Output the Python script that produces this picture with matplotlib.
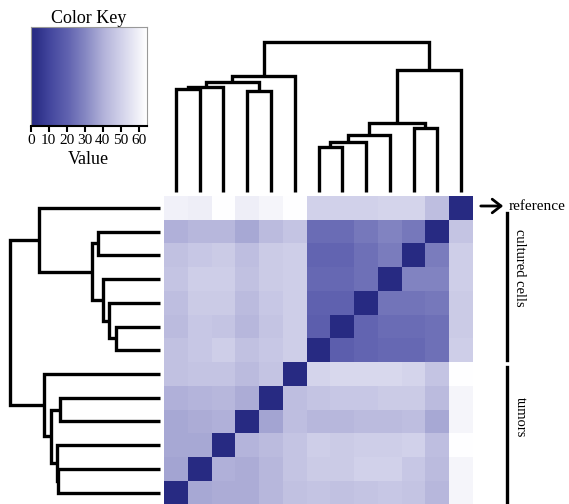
import numpy as np
import matplotlib
matplotlib.use("Agg")
import matplotlib.pyplot as plt
from matplotlib.colors import LinearSegmentedColormap
from matplotlib.patches import FancyArrowPatch
from matplotlib.lines import Line2D

plt.rcParams['font.family'] = ['Liberation Serif', 'DejaVu Serif']

# ---------------- data ----------------
row_labels = ["reference"] + ["cultured"] * 6 + ["tumor"] * 6
col_labels = ["tumor"] * 6 + ["cultured"] * 6 + ["reference"]

values = np.array([
    [60, 59, 64, 59, 61, 64, 50, 50, 50, 51, 51, 44, 0],
    [40, 42, 42, 38, 43, 46, 23, 23, 26, 29, 26, 0, 46],
    [45, 47, 48, 44, 48, 49, 21, 21, 24, 27, 0, 27, 49],
    [46, 49, 49, 45, 48, 49, 22, 22, 24, 0, 29, 29, 49],
    [44, 48, 48, 43, 47, 49, 20, 20, 0, 25, 25, 26, 48],
    [43, 47, 46, 42, 46, 49, 19, 0, 21, 23, 23, 24, 48],
    [45, 47, 49, 45, 47, 49, 0, 19, 21, 22, 22, 24, 49],
    [45, 46, 46, 43, 46, 0, 51, 52, 52, 52, 51, 46, 64],
    [40, 41, 42, 39, 0, 44, 46, 47, 47, 48, 48, 43, 61],
    [38, 39, 40, 0, 37, 44, 42, 42, 43, 43, 44, 38, 61],
    [38, 38, 0, 41, 43, 46, 49, 48, 49, 49, 50, 44, 64],
    [37, 0, 40, 39, 42, 46, 48, 48, 50, 50, 47, 43, 61],
    [0, 38, 39, 39, 42, 45, 46, 45, 46, 47, 46, 42, 61],
], dtype=float)

# dendrogram merges: (left node, right node, height); node n+k = k-th merge
col_merges = [
    (0, 1, 102.7), (13, 2, 104.7), (3, 4, 101.3), (14, 15, 110.3), (16, 5, 116.0),
    (6, 7, 45.3), (18, 8, 50.3), (19, 9, 57.0), (10, 11, 63.7), (20, 21, 69.3),
    (22, 12, 122.0), (17, 23, 150.3),
]
row_merges = [
    (5, 6, 44.0), (4, 13, 50.7), (3, 14, 56.7), (1, 2, 62.3), (16, 15, 68.3),
    (0, 17, 120.7), (11, 12, 101.7), (10, 19, 103.3), (8, 9, 100.0), (21, 20, 109.3),
    (7, 22, 115.7), (18, 23, 150.0),
]

key_ticks = [0, 10, 20, 30, 40, 50, 60]
vmin, vmax = 0, 64.5

cmap = LinearSegmentedColormap.from_list(
    "key",
    [(0.0, "#272a82"), (0.05, "#2d3088"), (0.17, "#45489f"), (0.32, "#6163b0"),
     (0.47, "#8688c3"), (0.63, "#b3b3da"), (0.8, "#d6d6ec"), (1.0, "#ffffff")])

W, H = 569, 504
fig = plt.figure(figsize=(W / 100, H / 100), dpi=100)


def frac(x0, y0, x1, y1):
    """pixel box (top-left origin) -> figure fraction rect"""
    return [x0 / W, 1 - y1 / H, (x1 - x0) / W, (y1 - y0) / H]


LW = 2.4

# ---------------- heatmap ----------------
ax = fig.add_axes(frac(164, 196, 473, 504.5))
n = values.shape[0]
ax.pcolormesh(np.arange(n + 1), np.arange(n + 1), values, cmap=cmap,
              vmin=vmin, vmax=vmax, edgecolor="none")
ax.set_xlim(0, n)
ax.set_ylim(n, 0)
ax.axis("off")


def dendro(axd, merges, nleaf, orient):
    pos = {i: i + 0.5 for i in range(nleaf)}
    hgt = {i: 0.0 for i in range(nleaf)}
    for k, (a, b, h) in enumerate(merges):
        xs = [pos[a], pos[a], pos[b], pos[b]]
        ys = [hgt[a], h, h, hgt[b]]
        if orient == "top":
            axd.plot(xs, ys, color="black", lw=LW, solid_joinstyle="miter",
                     solid_capstyle="butt", clip_on=False)
        else:
            axd.plot(ys, xs, color="black", lw=LW, solid_joinstyle="miter",
                     solid_capstyle="butt", clip_on=False)
        pos[nleaf + k] = (pos[a] + pos[b]) / 2
        hgt[nleaf + k] = h


# top dendrogram
axt = fig.add_axes(frac(164, 41.7, 473, 192))
dendro(axt, col_merges, n, "top")
axt.set_xlim(0, n)
axt.set_ylim(0, 150.3)
axt.axis("off")

# left dendrogram
axl = fig.add_axes(frac(10, 196, 160, 504.5))
dendro(axl, row_merges, n, "left")
axl.set_xlim(150, 0)
axl.set_ylim(n, 0)
axl.axis("off")

# ---------------- color key ----------------
axk = fig.add_axes(frac(30.7, 27.3, 146.7, 126))
grad = np.linspace(vmin, vmax, 256)[None, :]
axk.imshow(grad, cmap=cmap, vmin=vmin, vmax=vmax, aspect="auto",
           extent=(vmin, vmax, 0, 1))
axk.set_xlim(vmin, vmax)
axk.set_yticks([])
axk.set_xticks(key_ticks)
axk.set_xticklabels([str(t) for t in key_ticks], fontsize=11)
axk.tick_params(axis="x", length=4, width=1.5, pad=2, direction="out")
for s in axk.spines.values():
    s.set_color("#999999")
    s.set_linewidth(0.8)
axk.spines["bottom"].set_color("black")
axk.spines["bottom"].set_linewidth(1.5)
axk.set_title("Color Key", fontsize=13, pad=3)
axk.set_xlabel("Value", fontsize=13, labelpad=3)

# ---------------- right annotations ----------------
arr = FancyArrowPatch((478 / W, 1 - 206 / H), (506 / W, 1 - 206 / H),
                      transform=fig.transFigure, arrowstyle="->,head_length=0.45,head_width=0.35",
                      mutation_scale=14, lw=2, color="black")
fig.add_artist(arr)
fig.text(509 / W, 1 - 206 / H, "reference", fontsize=11, ha="left", va="center")

fig.add_artist(Line2D([506.5 / W, 506.5 / W], [1 - 213 / H, 1 - 360 / H],
                      transform=fig.transFigure, color="black", lw=2.4))
fig.add_artist(Line2D([506.5 / W, 506.5 / W], [1 - 367 / H, 1 - 502 / H],
                      transform=fig.transFigure, color="black", lw=2.4))
fig.text(520 / W, 1 - 268 / H, "cultured cells", fontsize=10.5, rotation=-90,
         ha="center", va="center")
fig.text(520 / W, 1 - 417 / H, "tumors", fontsize=10.5, rotation=-90,
         ha="center", va="center")

fig.savefig("out.png", dpi=100)
